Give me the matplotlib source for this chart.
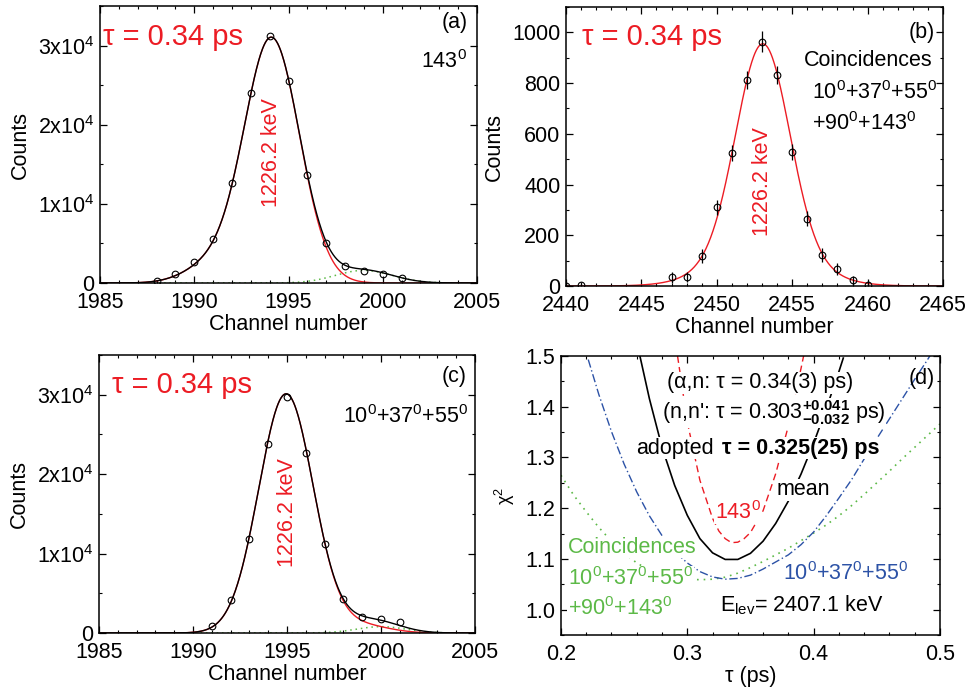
import numpy as np
import matplotlib
matplotlib.use('Agg')
import matplotlib.pyplot as plt
from matplotlib.ticker import MultipleLocator, FuncFormatter

plt.rcParams['font.family'] = ['Liberation Sans', 'DejaVu Sans']
plt.rcParams['mathtext.fontset'] = 'custom'
plt.rcParams['mathtext.rm'] = 'Liberation Sans'
plt.rcParams['mathtext.it'] = 'Liberation Sans:italic'
plt.rcParams['mathtext.bf'] = 'Liberation Sans:bold'

RED = '#ec1c24'
GREEN = '#5cb947'
BLUE = '#2c52a6'
FS = 15.5

# (a) singles at 143 deg
chan_a = [1988, 1989, 1990, 1991, 1992, 1993, 1994, 1995, 1996, 1997, 1998, 1999, 2000, 2001]
counts_a = [280, 1150, 2600, 5550, 12580, 23980, 31220, 25580, 13710, 5050, 2120, 1530, 1200, 630]
# fit components: (amplitude, centre, sigma below centre, sigma above centre)
line_a = [(30900, 1994.1, 1.45, 1.48), (2200, 1990.9, 1.4, 1.4)]
contam_a = [(1600, 1999.0, 1.5, 1.5)]

# (b) coincidences, all angles
chan_b = [2440, 2441, 2447, 2448, 2449, 2450, 2451, 2452, 2453, 2454, 2455, 2456, 2457, 2458, 2459, 2460]
counts_b = [0, 2, 34, 34, 118, 310, 523, 811, 964, 831, 527, 266, 122, 67, 22, 5]
err_b = [15, 15, 23, 20, 28, 30, 32, 36, 40, 36, 32, 30, 26, 23, 18, 15]
line_b = [(805, 2453.05, 1.75, 1.75), (150, 2453.05, 3.0, 3.0)]

# (c) singles at 10+37+55 deg
chan_c = [1991, 1992, 1993, 1994, 1995, 1996, 1997, 1998, 1999, 2000, 2001]
counts_c = [920, 4200, 11880, 23790, 29750, 22620, 11230, 4270, 2050, 1760, 1380]
line_c = [(30100, 1994.95, 1.45, 1.45), (950, 1999.0, 1.4, 1.4)]
contam_c = [(800, 2000.0, 1.3, 1.3)]

# (d) chi^2 versus lifetime
tau_mean = [0.2625, 0.27, 0.28, 0.29, 0.30, 0.31, 0.32, 0.33, 0.34, 0.35, 0.36, 0.37,
            0.38, 0.39, 0.40, 0.41, 0.42, 0.4235]
chi_mean = [1.50, 1.416, 1.32, 1.245, 1.186, 1.14, 1.112, 1.099, 1.099, 1.111, 1.135, 1.17,
            1.214, 1.267, 1.328, 1.396, 1.469, 1.496]
tau_143 = [0.2923, 0.30, 0.31, 0.32, 0.325, 0.33, 0.335, 0.34, 0.345, 0.35, 0.36, 0.37, 0.38, 0.39, 0.3925]
chi_143 = [1.50, 1.37, 1.255, 1.180, 1.155, 1.140, 1.132, 1.133, 1.140, 1.152, 1.195, 1.268, 1.362, 1.475, 1.505]
tau_fwd = [0.2216, 0.23, 0.24, 0.25, 0.26, 0.27, 0.28, 0.29, 0.30, 0.31, 0.32, 0.33, 0.34, 0.35,
           0.36, 0.37, 0.38, 0.39, 0.40, 0.41, 0.42, 0.43, 0.44, 0.45, 0.46, 0.47, 0.48, 0.49, 0.4935]
chi_fwd = [1.493, 1.424, 1.351, 1.287, 1.232, 1.185, 1.146, 1.115, 1.092, 1.075, 1.0645, 1.060, 1.0616, 1.068,
           1.080, 1.094, 1.108, 1.128, 1.153, 1.185, 1.22, 1.256, 1.297, 1.337, 1.376, 1.415, 1.454, 1.492, 1.506]
tau_coin = [0.20, 0.21, 0.22, 0.23, 0.24, 0.25, 0.26, 0.27, 0.28, 0.29, 0.30, 0.31, 0.32, 0.33, 0.34, 0.35,
            0.36, 0.37, 0.38, 0.39, 0.40, 0.41, 0.42, 0.43, 0.44, 0.45, 0.46, 0.47, 0.48, 0.49, 0.50]
chi_coin = [1.265, 1.226, 1.193, 1.162, 1.135, 1.112, 1.092, 1.078, 1.069, 1.063, 1.060, 1.059, 1.060, 1.064,
            1.072, 1.083, 1.095, 1.108, 1.121, 1.136, 1.151, 1.167, 1.185, 1.205, 1.227, 1.250, 1.273, 1.297,
            1.320, 1.343, 1.366]


def peak(x, amp, centre, sig_lo, sig_hi):
    sig = np.where(x < centre, sig_lo, sig_hi)
    return amp * np.exp(-0.5 * ((x - centre) / sig) ** 2)


def line_shape(x, parts):
    return sum(peak(x, *p) for p in parts)


def counts_fmt(v, pos):
    if abs(v) < 1:
        return '0'
    return r'%dx10$^4$' % round(v / 1e4)


def style_axes(ax):
    for s in ax.spines.values():
        s.set_linewidth(1.1)
    ax.tick_params(which='both', direction='in', top=True, right=True, labelsize=FS)
    ax.tick_params(axis='x', pad=6.5)
    ax.tick_params(axis='y', pad=4)
    ax.tick_params(which='major', length=4.8, width=0.9)
    ax.tick_params(which='minor', length=2.4, width=0.8)


def spectrum(ax, chan, counts, line, contam, label_pos):
    x = np.linspace(1985, 2005, 801)
    red = line_shape(x, line)
    green = line_shape(x, contam)
    ax.plot(x, green, color=GREEN, lw=1.1, ls=(0, (1, 2.5)))
    ax.plot(x, red, color=RED, lw=1.0)
    ax.plot(x, red + green, color='k', lw=1.0)
    ax.plot(chan, counts, 'o', mfc='none', mec='k', ms=4.8, mew=0.8)
    ax.set_xlim(1985, 2005)
    ax.set_ylim(0, 35000)
    ax.xaxis.set_major_locator(MultipleLocator(5))
    ax.xaxis.set_minor_locator(MultipleLocator(1))
    ax.yaxis.set_major_locator(MultipleLocator(10000))
    ax.yaxis.set_minor_locator(MultipleLocator(5000))
    ax.yaxis.set_major_formatter(FuncFormatter(counts_fmt))
    ax.set_xlabel('Channel number', fontsize=FS, labelpad=1)
    ax.set_ylabel('Counts', fontsize=FS, labelpad=5)
    ax.text(label_pos[0], label_pos[1], '1226.2 keV', color=RED, fontsize=FS,
            rotation=90, ha='center', va='center')
    style_axes(ax)


fig = plt.figure(figsize=(9.68, 6.94), dpi=100)
ax_a = fig.add_axes([0.1033, 0.5922, 0.3895, 0.3991])
ax_b = fig.add_axes([0.5847, 0.5879, 0.3895, 0.4020])
ax_c = fig.add_axes([0.1023, 0.0879, 0.3884, 0.4006])
ax_d = fig.add_axes([0.5795, 0.0850, 0.3915, 0.4020])

# (a)
spectrum(ax_a, chan_a, counts_a, line_a, contam_a, (1994.1, 16500))
ax_a.text(0.008, 0.888, 'τ = 0.34 ps', color=RED, fontsize=21, transform=ax_a.transAxes, va='center')
ax_a.text(0.976, 0.939, '(a)', fontsize=FS, transform=ax_a.transAxes, ha='right', va='center')
ax_a.text(0.973, 0.798, '143$^0$', fontsize=FS, transform=ax_a.transAxes, ha='right', va='center')

# (b)
xb = np.linspace(2440, 2465, 801)
ax_b.plot(xb, line_shape(xb, line_b), color=RED, lw=1.0)
ax_b.errorbar(chan_b, counts_b, yerr=err_b, fmt='o', mfc='none', mec='k', ecolor='k',
              elinewidth=0.9, capsize=0, ms=4.8, mew=0.8)
ax_b.set_xlim(2440, 2465)
ax_b.set_ylim(0, 1100)
ax_b.xaxis.set_major_locator(MultipleLocator(5))
ax_b.xaxis.set_minor_locator(MultipleLocator(1))
ax_b.yaxis.set_major_locator(MultipleLocator(200))
ax_b.yaxis.set_minor_locator(MultipleLocator(100))
ax_b.set_xlabel('Channel number', fontsize=FS, labelpad=1)
ax_b.set_ylabel('Counts', fontsize=FS, labelpad=5)
ax_b.text(2453.05, 411, '1226.2 keV', color=RED, fontsize=FS, rotation=90, ha='center', va='center')
ax_b.text(0.042, 0.892, 'τ = 0.34 ps', color=RED, fontsize=21, transform=ax_b.transAxes, va='center')
ax_b.text(0.979, 0.907, '(b)', fontsize=FS, transform=ax_b.transAxes, ha='right', va='center')
ax_b.text(0.973, 0.81, 'Coincidences', fontsize=FS, transform=ax_b.transAxes, ha='right', va='center')
ax_b.text(0.6525, 0.695, '10$^0$+37$^0$+55$^0$', fontsize=FS, transform=ax_b.transAxes, va='center')
ax_b.text(0.6525, 0.584, '+90$^0$+143$^0$', fontsize=FS, transform=ax_b.transAxes, va='center')
style_axes(ax_b)

# (c)
spectrum(ax_c, chan_c, counts_c, line_c, contam_c, (1995.0, 15200))
ax_c.text(0.035, 0.892, 'τ = 0.34 ps', color=RED, fontsize=21, transform=ax_c.transAxes, va='center')
ax_c.text(0.979, 0.921, '(c)', fontsize=FS, transform=ax_c.transAxes, ha='right', va='center')
ax_c.text(0.981, 0.777, '10$^0$+37$^0$+55$^0$', fontsize=FS, transform=ax_c.transAxes,
          ha='right', va='center')

# (d)
box = dict(facecolor='white', edgecolor='none', pad=0.5)
ax_d.plot(tau_coin, chi_coin, color=GREEN, lw=1.2, ls=(0, (1, 3)))
ax_d.plot(tau_fwd, chi_fwd, color=BLUE, lw=1.0, ls=(0, (6, 2, 1, 2)))
ax_d.plot(tau_143, chi_143, color=RED, lw=1.0, ls=(0, (5, 3)))
ax_d.plot(tau_mean, chi_mean, color='k', lw=1.2)
ax_d.set_xlim(0.2, 0.5)
ax_d.set_ylim(0.95, 1.5)
ax_d.xaxis.set_major_locator(MultipleLocator(0.1))
ax_d.xaxis.set_minor_locator(MultipleLocator(0.02))
ax_d.yaxis.set_major_locator(MultipleLocator(0.1))
ax_d.yaxis.set_minor_locator(MultipleLocator(0.05))
ax_d.xaxis.set_major_formatter(FuncFormatter(lambda v, p: '%.1f' % v))
ax_d.yaxis.set_major_formatter(FuncFormatter(lambda v, p: '%.1f' % v))
ax_d.set_xlabel('τ (ps)', fontsize=FS, labelpad=1)
ax_d.set_ylabel('χ$^2$', fontsize=13, labelpad=6)
ax_d.text(0.2839, 1.447, '(α,n: τ = 0.34(3) ps)', fontsize=FS, va='center', bbox=box)
ax_d.text(0.280, 1.388, r"(n,n': τ = 0.303$^{\mathbf{+0.041}}_{\mathbf{-0.032}}$ ps)",
          fontsize=FS, va='center', bbox=box)
ax_d.text(0.2594, 1.318, 'adopted', fontsize=FS, va='center', bbox=box)
ax_d.text(0.3272, 1.318, 'τ = 0.325(25) ps', fontsize=FS, fontweight='bold', va='center', bbox=box)
ax_d.text(0.371, 1.236, 'mean', fontsize=FS, va='center', bbox=box)
ax_d.text(0.3219, 1.192, '143$^0$', fontsize=FS, color=RED, va='center', bbox=box)
ax_d.text(0.2055, 1.123, 'Coincidences', fontsize=FS, color=GREEN, va='center', bbox=box)
ax_d.text(0.2055, 1.062, '10$^0$+37$^0$+55$^0$', fontsize=FS, color=GREEN, va='center', bbox=box)
ax_d.text(0.2055, 1.003, '+90$^0$+143$^0$', fontsize=FS, color=GREEN, va='center', bbox=box)
ax_d.text(0.3757, 1.072, '10$^0$+37$^0$+55$^0$', fontsize=FS, color=BLUE, va='center', bbox=box)
ax_d.text(0.3258, 1.008, 'E$_{\\rm lev}$= 2407.1 keV', fontsize=FS, va='center', bbox=box)
ax_d.text(0.496, 1.455, '(d)', fontsize=FS, ha='right', va='center')
style_axes(ax_d)

fig.savefig('out.png', dpi=100)
